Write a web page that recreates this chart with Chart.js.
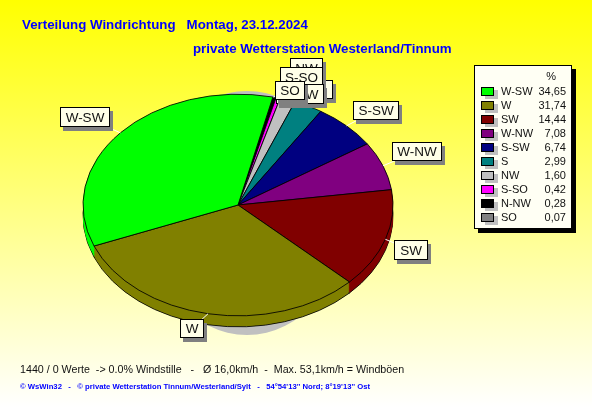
<!DOCTYPE html>
<html>
<head>
<meta charset="utf-8">
<title>Verteilung Windrichtung</title>
<script src="https://cdn.jsdelivr.net/npm/chart.js@4/dist/chart.umd.min.js"></script>
<style>
  html, body { margin: 0; padding: 0; }
  body {
    position: relative; width: 592px; height: 407px; overflow: hidden;
    background: linear-gradient(#ffff00, #ffffff);
    font-family: "Liberation Sans", Arial, sans-serif;
  }
  canvas { position: absolute; left: 0; top: 0; }
  .txt { position: absolute; white-space: pre; }
  .titel { color: #0000ff; font-weight: bold; font-size: 13.3px; line-height: 16px; }
  #legende {
    position: absolute; left: 474px; top: 65px; width: 96px; height: 162px;
    background: #fffff4; border: 1px solid #000; box-shadow: 4px 4px 0 #000;
    font-size: 11px; color: #111;
  }
  #legende .box {
    position: absolute; left: 6px; width: 11px; height: 7px;
    border: 1px solid #000; box-shadow: 4px 3px 0 #c0c0c0;
  }
  #legende .name, #legende .wert { position: absolute; line-height: 14px; }
  #legende .name { left: 26px; }
  #legende .wert { right: 5px; }
</style>
</head>
<body>
<canvas id="pie" width="592" height="407"></canvas>
<div class="txt titel" style="left:22px;top:17px">Verteilung Windrichtung   Montag, 23.12.2024</div>
<div class="txt titel" style="left:193px;top:41px">private Wetterstation Westerland/Tinnum</div>
<div id="legende"></div>
<div class="txt" style="left:20px;top:362px;font-size:10.7px;line-height:14px;color:#111">1440 / 0 Werte  -&gt; 0.0% Windstille   -   Ø 16,0km/h  -  Max. 53,1km/h = Windböen</div>
<div class="txt" style="left:20px;top:382px;font-size:7.7px;line-height:10px;font-weight:bold;color:#0000ff">© WsWin32   -   © private Wetterstation Tinnum/Westerland/Sylt   -   54°54'13'' Nord; 8°19'13'' Ost</div>
<script>
const richtungen = ["W-SW", "W", "SW", "W-NW", "S-SW", "S", "NW", "S-SO", "N-NW", "SO"];
const prozent = [34.65, 31.74, 14.44, 7.08, 6.74, 2.99, 1.60, 0.42, 0.28, 0.07];
const farben = ["#00ff00", "#808000", "#800000", "#800080", "#000080", "#008080", "#c0c0c0", "#ff00ff", "#000000", "#808080"];

// callout boxes: left, top, right, bottom (same order as richtungen, last one on top)
const boxen = [
  [60, 107, 110, 127], [180, 319, 204, 338], [394, 240, 428, 260], [392, 142, 442, 161], [353, 101, 399, 120],
  [310, 80, 333, 99], [290, 58, 323, 78], [280, 67, 323, 87], [276, 84, 324, 104], [275, 81, 305, 100]
];
const TIEFE = 11;     // height of the pie wall
const STAUCHUNG = 0.715; // pie is a circle for Chart.js, squashed to an ellipse here

// legend
const legende = document.getElementById("legende");
legende.innerHTML = '<div class="wert" style="top:3px;right:15px">%</div>';
richtungen.forEach(function (name, i) {
  const y = 18 + i * 14;
  legende.innerHTML +=
    '<div class="box" style="top:' + (y + 3) + 'px;background:' + farben[i] + '"></div>' +
    '<div class="name" style="top:' + y + 'px">' + name + '</div>' +
    '<div class="wert" style="top:' + y + 'px">' + prozent[i].toFixed(2).replace(".", ",") + '</div>';
});

function stauchen(ctx, arc) {
  ctx.translate(arc.x, arc.y);
  ctx.scale(1, STAUCHUNG);
  ctx.translate(-arc.x, -arc.y);
}

const pie3d = {
  id: "pie3d",
  beforeDatasetsDraw(chart) {
    const ctx = chart.ctx;
    const arcs = chart.getDatasetMeta(0).data;

    // grey shadow behind the pie
    ctx.save();
    ctx.fillStyle = "#c0c0c0";
    ctx.beginPath();
    ctx.ellipse(arcs[0].x + 9, arcs[0].y + 8, 100, 122, 0, 0, Math.PI * 2);
    ctx.fill();
    ctx.restore();

    ctx.save();
    stauchen(ctx, arcs[0]);
    // wall, drawn from the bottom up
    for (let d = TIEFE; d > 0; d--) {
      ctx.save();
      ctx.translate(0, d / STAUCHUNG);
      arcs.forEach(function (arc) {
        const orig = arc.options;
        arc.options = Object.assign({}, orig, { borderWidth: d === TIEFE ? 1 : 0 });
        arc.draw(ctx);
        arc.options = orig;
      });
      ctx.restore();
    }
  },
  afterDatasetsDraw(chart) {
    const ctx = chart.ctx;
    ctx.restore();

    const arcs = chart.getDatasetMeta(0).data;
    ctx.font = "13.5px 'Liberation Sans', Arial, sans-serif";
    ctx.textAlign = "center";
    ctx.textBaseline = "middle";
    richtungen.forEach(function (name, i) {
      const arc = arcs[richtungen.length - 1 - i]; // dataset runs reversed
      const winkel = (arc.startAngle + arc.endAngle) / 2;
      const x = arc.x + Math.cos(winkel) * arc.outerRadius;
      const y = arc.y + Math.sin(winkel) * arc.outerRadius * STAUCHUNG;
      const [l, o, r, u] = boxen[i];

      ctx.strokeStyle = "#ffffff";
      ctx.lineWidth = 1;
      ctx.beginPath();
      ctx.moveTo(x, y);
      ctx.lineTo((l + r) / 2, (o + u) / 2);
      ctx.stroke();

      ctx.fillStyle = "#808080";
      ctx.fillRect(l + 3, o + 4, r - l, u - o);
      ctx.fillStyle = "#ffffe8";
      ctx.strokeStyle = "#000000";
      ctx.fillRect(l, o, r - l, u - o);
      ctx.strokeRect(l + 0.5, o + 0.5, r - l - 1, u - o - 1);
      ctx.fillStyle = "#111111";
      ctx.fillText(name, (l + r) / 2, (o + u) / 2 + 1);
    });
  }
};

new Chart(document.getElementById("pie"), {
  type: "pie",
  data: {
    labels: richtungen.slice().reverse(),
    datasets: [{
      data: prozent.slice().reverse(),
      backgroundColor: farben.slice().reverse(),
      borderColor: "#000000",
      borderWidth: 1,
      clip: false
    }]
  },
  options: {
    responsive: false,
    animation: false,
    events: [],
    rotation: 13,
    radius: 155,
    layout: { padding: { top: 3, right: 116 } },
    plugins: { legend: { display: false }, tooltip: { enabled: false } }
  },
  plugins: [pie3d]
});
</script>
</body>
</html>
